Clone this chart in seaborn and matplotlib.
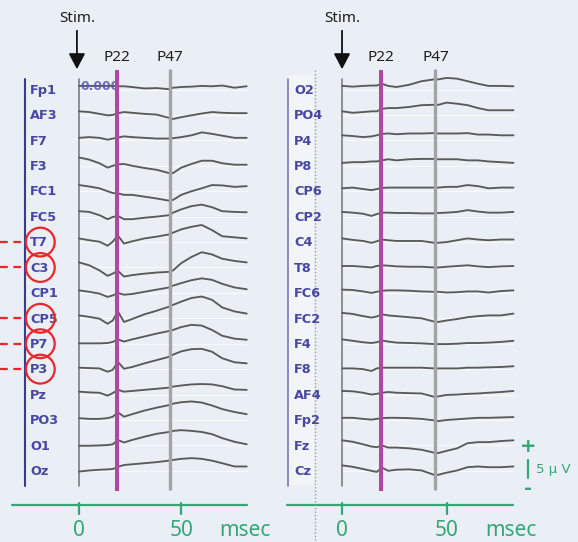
import matplotlib
matplotlib.use("Agg")
import matplotlib.pyplot as plt
import seaborn as sns
import pandas as pd
import numpy as np

# ---------------------------------------------------------------- data
# sample times (ms after stimulus)
T_MS = [0, 5, 10, 14, 16.5, 19, 22, 26, 32, 38, 44, 46, 50, 55, 60, 65, 70, 76, 82]

# left hemisphere / midline-left channels (uV)
FP1 = [1.0, 1.0, 1.0, 1.0, 1.0, 0.9, 0.9, 0.7, 0.3, 0.4, 0.1, 0.5, 0.7, 0.8, 1.0, 0.9, 1.1, 0.5, 0.9]
AF3 = [1.0, 0.8, 0.3, -0.1, 0.0, 0.5, 0.8, 0.6, 0.3, 0.1, -0.8, -1.1, -0.6, -0.1, 0.4, 0.8, 0.6, 0.5, 0.5]
F7 = [0.7, 0.9, 0.7, 0.2, 0.5, 0.8, 1.1, 0.9, 0.7, 0.5, 0.5, 0.6, 0.9, 1.4, 2.2, 1.8, 1.3, 0.7, 0.7]
F3 = [2.3, 1.7, 0.7, -0.5, 0.0, 0.4, 0.5, 0.0, -0.6, -1.1, -2.0, -2.0, -0.5, 0.5, 1.4, 1.4, 0.7, 0.3, 0.3]
FC1 = [1.7, 1.3, 0.8, 0.0, -0.5, -0.6, -1.0, -1.0, -1.5, -2.0, -2.6, -2.4, -1.0, 0.0, 0.8, 1.7, 1.6, 1.2, 1.4]
FC5 = [1.5, 1.3, 0.4, -0.7, -0.1, 0.2, -0.7, -0.7, -0.3, 0.0, 0.4, 1.1, 2.0, 2.9, 3.3, 2.6, 1.5, 1.3, 1.2]
T7 = [1.0, 0.5, 0.1, -1.0, 0.1, 1.8, -0.4, 0.2, 1.0, 1.5, 2.1, 2.6, 3.5, 4.2, 4.7, 3.3, 1.6, 1.3, 1.0]
C3 = [1.4, 0.6, -0.8, -2.3, -1.7, -0.9, -2.5, -2.1, -1.7, -1.4, -1.2, -0.8, 1.2, 2.9, 4.2, 3.6, 2.4, 1.8, 1.4]
CP1 = [0.7, 0.3, -0.2, -1.1, -0.7, 0.0, -0.5, -0.3, 0.3, 0.9, 1.5, 2.0, 2.7, 3.5, 4.0, 3.6, 2.5, 1.5, 1.0]
CP5 = [0.8, 0.4, -0.1, -1.5, -0.6, 1.9, -1.0, -0.2, 1.1, 2.1, 3.2, 3.7, 4.6, 5.6, 6.0, 5.1, 3.0, 1.9, 1.3]
P7 = [0.1, 0.1, 0.1, 0.2, 0.5, 1.2, 0.6, 1.2, 2.0, 2.8, 3.5, 3.8, 4.6, 5.2, 5.0, 3.8, 2.2, 1.4, 1.1]
P3 = [0.4, 0.3, 0.2, -0.7, -0.2, 2.0, 0.1, 0.6, 1.6, 2.5, 3.4, 4.0, 4.9, 5.5, 5.6, 4.8, 3.0, 1.9, 1.6]
PZ = [0.8, 0.6, 0.5, -0.3, 0.4, 1.3, 0.8, 1.0, 1.3, 1.6, 1.9, 2.2, 2.5, 2.8, 2.9, 2.8, 2.3, 1.4, 1.3]
PO3 = [0.5, 0.3, 0.3, 0.5, 0.9, 2.1, 0.9, 1.6, 2.6, 3.4, 4.1, 4.5, 4.9, 5.1, 4.8, 4.0, 3.0, 2.2, 1.6]
O1 = [-0.1, -0.1, 0.0, 0.1, 0.3, 1.5, 0.8, 1.5, 2.4, 3.2, 3.7, 4.0, 4.2, 4.0, 3.7, 3.1, 2.0, 1.0, 0.3]
OZ = [-0.2, 0.1, 0.3, 0.4, 0.5, 1.1, 1.6, 1.8, 2.1, 2.4, 2.8, 3.0, 3.3, 3.5, 3.3, 2.8, 2.1, 1.2, 1.2]

# right hemisphere / midline-right channels (uV)
O2 = [1.0, 0.8, 1.0, 1.1, 1.1, 1.6, 1.0, 0.7, 1.3, 2.3, 2.8, 2.8, 3.2, 3.0, 2.3, 1.6, 1.0, 1.0, 0.9]
PO4 = [1.0, 0.6, 0.8, 1.0, 1.0, 1.7, 1.9, 1.9, 2.2, 2.7, 2.8, 2.8, 3.4, 3.1, 2.7, 1.9, 1.3, 1.3, 1.3]
P4 = [1.4, 1.2, 0.9, 1.1, 1.4, 1.8, 1.9, 1.7, 1.9, 1.9, 2.0, 1.9, 1.9, 1.9, 2.0, 1.6, 1.6, 1.4, 1.4]
P8 = [0.8, 1.0, 1.0, 1.2, 1.2, 1.5, 1.8, 1.5, 1.8, 1.9, 1.9, 1.8, 1.8, 1.8, 1.5, 1.5, 1.2, 1.0, 0.8]
CP6 = [0.8, 1.0, 0.6, 0.3, 0.6, 0.9, 1.0, 1.0, 1.0, 1.0, 1.0, 1.0, 1.2, 1.2, 1.7, 1.4, 0.8, 1.0, 1.0]
CP2 = [1.3, 1.1, 0.8, 0.2, 0.7, 1.1, 1.1, 1.0, 1.0, 0.9, 0.9, 1.0, 1.1, 1.3, 1.8, 1.4, 1.1, 1.1, 1.3]
C4 = [1.0, 0.6, 0.3, -0.2, 0.2, 0.7, 0.5, 0.3, 0.3, 0.3, -0.2, -0.2, 0.0, 0.5, 1.0, 0.7, 0.5, 0.7, 0.7]
T8 = [0.4, 0.4, 0.2, 0.0, 0.4, 0.6, 0.5, 0.3, 0.2, 0.2, 0.0, 0.0, 0.2, 0.4, 0.6, 0.3, 0.1, 0.3, 0.4]
FC6 = [0.9, 0.8, 0.4, 0.0, 0.3, 0.6, 0.7, 0.7, 0.6, 0.4, 0.3, 0.3, 0.1, 0.2, 0.4, 0.4, 0.1, 0.5, 0.7]
FC2 = [1.5, 1.2, 0.6, 0.2, 0.5, 1.1, 0.8, 0.6, 0.3, 0.0, -0.9, -1.0, -0.6, -0.2, 0.3, 0.6, 0.8, 0.8, 1.3]
F4 = [1.2, 0.8, 0.4, 0.2, 0.4, 0.9, 0.6, 0.3, 0.2, 0.1, -0.1, -0.1, -0.1, 0.0, 0.2, 0.2, 0.3, 0.5, 0.8]
F8 = [0.2, 0.2, 0.0, -0.5, 0.2, 0.4, 0.4, 0.4, 0.4, 0.4, 0.2, 0.2, 0.2, 0.2, 0.4, 0.4, 0.5, 0.6, 0.8]
AF4 = [1.0, 0.9, 0.5, 0.0, 0.2, 0.5, 0.7, 0.5, 0.4, 0.3, -0.6, -0.5, -0.1, 0.0, 0.2, 0.3, 0.5, 0.7, 1.0]
FP2 = [0.6, 0.6, 0.3, 0.1, 0.3, 0.5, 0.6, 0.6, 0.5, 0.3, -0.1, -0.3, 0.0, 0.2, 0.4, 0.6, 0.6, 0.7, 0.8]
FZ = [1.4, 1.0, 0.3, -0.3, -0.5, 0.0, -0.6, -0.6, -0.8, -1.2, -2.0, -2.1, -1.5, -0.8, 0.6, 0.9, 0.9, 1.2, 1.4]
CZ = [1.5, 1.1, 0.5, 0.0, -0.3, 0.9, 0.0, 0.3, 0.4, 0.1, -1.1, -1.1, -0.5, 0.1, 1.0, 1.2, 1.0, 1.0, 1.2]

LEFT_NAMES = ["Fp1", "AF3", "F7", "F3", "FC1", "FC5", "T7", "C3",
              "CP1", "CP5", "P7", "P3", "Pz", "PO3", "O1", "Oz"]
LEFT_DATA = [FP1, AF3, F7, F3, FC1, FC5, T7, C3, CP1, CP5, P7, P3, PZ, PO3, O1, OZ]
RIGHT_NAMES = ["O2", "PO4", "P4", "P8", "CP6", "CP2", "C4", "T8",
               "FC6", "FC2", "F4", "F8", "AF4", "Fp2", "Fz", "Cz"]
RIGHT_DATA = [O2, PO4, P4, P8, CP6, CP2, C4, T8, FC6, FC2, F4, F8, AF4, FP2, FZ, CZ]

MARKED = ["T7", "C3", "CP5", "P7", "P3"]   # circled channels
PEAKS = {"P22": 18.6, "P47": 44.6}         # latency markers (ms)
X_TICKS = [0, 50]
SCALE_UV = 5

# ---------------------------------------------------------------- style
BG = "#e9eff4"
TRACE = "#5a5a5a"
LABEL_BLUE = "#4747a3"
GREEN = "#34a677"
MAGENTA = "#b0489c"
GREY_LINE = "#a3a3a3"
RED = "#e8262b"
SPACING = 7.0  # uV between stacked channels

sns.set_theme(style="white")
plt.rcParams["font.family"] = ["DejaVu Sans"]

fig = plt.figure(figsize=(5.78, 5.42), dpi=100, facecolor=BG)
axL = fig.add_axes([0, 0, 1, 1])
axR = fig.add_axes([0, 0, 1, 1])
for ax in (axL, axR):
    ax.set_facecolor("none")
    ax.set_axis_off()
    ax.set_ylim(-124.6, 24.66)
axL.set_xlim(-38.6, 243.9)
axR.set_xlim(-163.9, 112.9)
axL.patch.set_facecolor(BG)
axL.patch.set_visible(True)


def long_frame(names, data):
    rows = []
    for i, (n, v) in enumerate(zip(names, data)):
        for t, u in zip(T_MS, v):
            rows.append({"ch": n, "t": t, "pos": u - SPACING * i})
    return pd.DataFrame(rows)


def draw_panel(ax, names, data, label_x, axis_x0, arrow_x):
    n = len(names)
    bottom = -SPACING * (n - 1)
    # faint baselines
    for i in range(n):
        ax.plot([0, T_MS[-1]], [-SPACING * i] * 2, color="#f6f9fb", lw=1.0, zorder=1)
    # channel traces
    df = long_frame(names, data)
    sns.lineplot(data=df, x="t", y="pos", units="ch", estimator=None,
                 color=TRACE, lw=1.35, sort=False, ax=ax, zorder=3,
                 legend=False)
    # stimulus onset line
    ax.plot([0, 0], [2.9, bottom - 4.2], color="#7d7d7d", lw=1.2, zorder=2)
    # latency markers
    ax.plot([PEAKS["P22"]] * 2, [5.4, bottom - 5.6], color=MAGENTA, lw=2.9, zorder=5,
            solid_capstyle="butt")
    ax.plot([PEAKS["P47"]] * 2, [5.6, bottom - 5.3], color=GREY_LINE, lw=2.4, zorder=4,
            solid_capstyle="butt")
    for name, t in PEAKS.items():
        ax.text(t, 8.7, name, ha="center", va="center", fontsize=11,
                family="Noto Sans", color="#1e1e1e")
    ax.text(arrow_x, 19.7, "Stim.", ha="center", va="center", fontsize=11,
            family="Noto Sans", color="#1e1e1e")
    ax.annotate("", xy=(arrow_x, 5.6), xytext=(arrow_x, 16.2),
                arrowprops=dict(arrowstyle="-|>,head_length=0.95,head_width=0.5",
                                mutation_scale=10, color="#111111", lw=1.3,
                                shrinkA=0, shrinkB=0))
    # channel labels
    for i, nme in enumerate(names):
        ax.text(label_x, -SPACING * i - 0.2, nme, ha="left", va="center",
                fontsize=9.3, fontweight="bold", color=LABEL_BLUE, zorder=6)
    # time axis
    y_ax = -114.5
    ax.plot([axis_x0, T_MS[-1]], [y_ax, y_ax], color=GREEN, lw=1.6)
    for xt in X_TICKS:
        ax.plot([xt, xt], [-113.8, -116.9], color=GREEN, lw=1.6)
        ax.text(xt, -121.4, str(xt), ha="center", va="center", fontsize=15,
                family="Noto Sans", color=GREEN)
    ax.text(81, -121.4, "msec", ha="center", va="center", fontsize=15,
            family="Noto Sans", color=GREEN)


draw_panel(axL, LEFT_NAMES, LEFT_DATA, label_x=-23.9, axis_x0=-32.7, arrow_x=-1.0)
draw_panel(axR, RIGHT_NAMES, RIGHT_DATA, label_x=-23.0, axis_x0=-26.5, arrow_x=-0.1)

# left blue amplitude axis
axL.plot([-26.4, -26.4], [2.9, -109.2], color="#3b3b8e", lw=1.5)
# right panel: label column, blue edge and dotted separator
axR.fill_between([-25.8, -13.4], [-109.0] * 2, [4.0] * 2, color="#f1f5f8", zorder=0, lw=0)
axR.plot([-25.8, -25.8], [2.9, -109.2], color="#5b5ba0", lw=1.2, alpha=0.8)
axR.plot([-13.0, -13.0], [5.4, -124.6], color="#9a9a9a", lw=1.0, ls=(0, (1, 1.5)))

# reference value at the top of the first channel
axL.text(0.6, 0.8, "0.000", ha="left", va="center", fontsize=8.8, fontweight="bold",
         color="#5656b6", alpha=0.85, zorder=4)

# circled channels with dashed leaders
for nme in MARKED:
    y = -SPACING * LEFT_NAMES.index(nme)
    axL.scatter([-18.9], [y], s=430, facecolors="none", edgecolors=RED,
                linewidths=1.6, zorder=7)
    axL.plot([-38.6, -26.0], [y, y], color=RED, lw=1.6, ls=(0, (3.5, 2.5)), zorder=7)

# amplitude scale bar
axR.plot([88.9, 88.9], [-107.0, -107.0 + SCALE_UV], color=GREEN, lw=1.6)
axR.text(88.9, -98.3, "+", ha="center", va="center", fontsize=14, fontweight="bold",
         color=GREEN)
axR.text(88.9, -109.9, "-", ha="center", va="center", fontsize=14, fontweight="bold",
         color=GREEN)
axR.text(92.6, -104.5, f"{SCALE_UV} \u03bc V", ha="left", va="center", fontsize=9.5,
         color=GREEN)

fig.savefig("out.png", dpi=100, facecolor=BG)
